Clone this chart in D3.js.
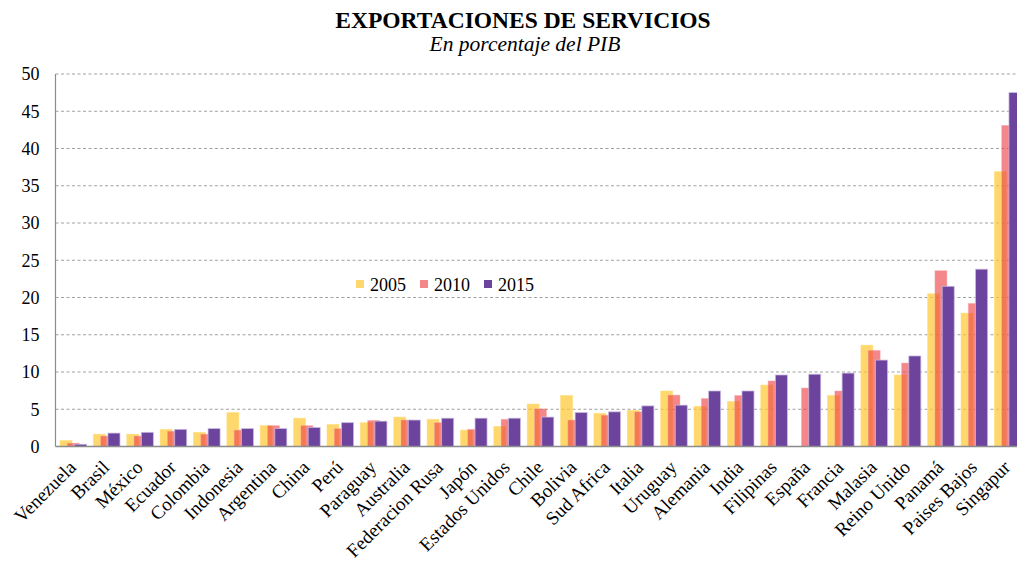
<!DOCTYPE html>
<html>
<head>
<meta charset="utf-8">
<script src="https://cdn.jsdelivr.net/npm/d3@7"></script>
<style>
  body { margin: 0; background: #fff; }
  svg { display: block; font-family: "Liberation Serif", "Times New Roman", serif; }
</style>
</head>
<body>
<div id="chart"></div>
<script>
// countries, ordered as in the source chart
var countries = ["Venezuela", "Brasil", "México", "Ecuador", "Colombia", "Indonesia", "Argentina",
  "China", "Perú", "Paraguay", "Australia", "Federacion Rusa", "Japón", "Estados Unidos", "Chile",
  "Bolivia", "Sud Africa", "Italia", "Uruguay", "Alemania", "India", "Filipinas", "España",
  "Francia", "Malasia", "Reino Unido", "Panamá", "Paises Bajos", "Singapur"];
var years = ["2005", "2010", "2015"];
var v2005 = [0.8, 1.65, 1.65, 2.3, 1.9, 4.55, 2.8, 3.8, 2.95, 3.2, 3.95, 3.65, 2.2, 2.7, 5.7,
  6.85, 4.45, 4.85, 7.45, 5.4, 6.05, 8.25, null, 6.85, 13.6, 9.6, 20.5, 17.9, 36.9];
var v2010 = [0.45, 1.4, 1.4, 2.05, 1.65, 2.2, 2.8, 2.8, 2.4, 3.5, 3.55, 3.2, 2.3, 3.65, 5.05,
  3.55, 4.2, 4.65, 6.9, 6.45, 6.85, 8.8, 7.85, 7.45, 12.9, 11.2, 23.6, 19.2, 43.1];
var v2015 = [0.3, 1.8, 1.9, 2.3, 2.4, 2.4, 2.4, 2.55, 3.2, 3.4, 3.55, 3.8, 3.8, 3.8, 3.95,
  4.55, 4.65, 5.45, 5.55, 7.45, 7.45, 9.6, 9.7, 9.85, 11.6, 12.15, 21.5, 23.8, 47.5];
var yTicks = [0, 5, 10, 15, 20, 25, 30, 35, 40, 45, 50];

var width = 1017, height = 565;
var plotLeft = 55.5, plotBottom = 446.5, plotTop = 74;
var step = 33.37;

var svg = d3.select("#chart").append("svg")
  .attr("width", width)
  .attr("height", height);

var x = d3.scaleBand()
  .domain(countries)
  .range([plotLeft, plotLeft + step * countries.length])
  .padding(0);
var y = d3.scaleLinear().domain([0, 50]).range([plotBottom, plotTop]);

// gridlines
svg.append("g")
  .selectAll("line")
  .data(yTicks.filter(function(d) { return d > 0; }))
  .enter().append("line")
  .attr("x1", plotLeft).attr("x2", width)
  .attr("y1", function(d) { return y(d); })
  .attr("y2", function(d) { return y(d); })
  .style("stroke", "#a0a0a0")
  .style("stroke-dasharray", "3,2.5")
  .style("stroke-width", 1);

// y axis labels
svg.append("g")
  .attr("transform", "translate(" + (plotLeft - 16) + ",0)")
  .call(d3.axisLeft(y).tickValues(yTicks).tickSize(0).tickPadding(0))
  .call(function(g) { g.select(".domain").remove(); })
  .selectAll("text")
  .style("font-family", "Liberation Serif, serif")
  .style("font-size", "18px")
  .style("fill", "#000");

// bars
var bw = 12, shift = 7.3, off = 4.5;
var series = [
  { name: "2005", values: v2005, fill: "rgb(255,201,53)", opacity: 0.72, stroke: "rgba(255,220,120,0.6)" },
  { name: "2010", values: v2010, fill: "rgb(237,61,66)", opacity: 0.62, stroke: "rgba(250,170,170,0.5)" },
  { name: "2015", values: v2015, fill: "#6c449e", opacity: 1, stroke: "rgba(200,185,225,0.9)" }
];
series.forEach(function(s, i) {
  svg.append("g")
    .selectAll("rect")
    .data(s.values.map(function(v, k) { return { c: countries[k], v: v }; })
      .filter(function(d) { return d.v != null; }))
    .enter().append("rect")
    .attr("x", function(d) { return x(d.c) + off + i * shift; })
    .attr("y", function(d) { return y(d.v); })
    .attr("width", bw)
    .attr("height", function(d) { return plotBottom - y(d.v); })
    .style("fill", s.fill)
    .style("fill-opacity", s.opacity)
    .style("stroke", s.stroke)
    .style("stroke-width", 0.8);
});

// axes lines
svg.append("line")
  .attr("x1", plotLeft).attr("x2", width)
  .attr("y1", plotBottom).attr("y2", plotBottom)
  .style("stroke", "#8c8c8c").style("stroke-width", 1.5);
svg.append("line")
  .attr("x1", plotLeft).attr("x2", plotLeft)
  .attr("y1", plotTop).attr("y2", plotBottom)
  .style("stroke", "#8c8c8c").style("stroke-width", 1.2);

// category labels
svg.append("g")
  .selectAll("text")
  .data(countries)
  .enter().append("text")
  .attr("transform", function(d) {
    return "translate(" + (x(d) + x.bandwidth() / 2 + 5) + "," + (plotBottom + 22) + ") rotate(-45)";
  })
  .style("text-anchor", "end")
  .style("font-size", "19px")
  .text(function(d) { return d; });

// legend
var legend = svg.append("g")
  .selectAll("g")
  .data(series)
  .enter().append("g")
  .attr("transform", function(d, i) { return "translate(" + (356 + i * 64) + ",280)"; });
legend.append("rect")
  .attr("width", 8).attr("height", 8)
  .style("fill", function(d) { return d.fill; })
  .style("fill-opacity", function(d) { return d.opacity; });
legend.append("text")
  .attr("x", 14).attr("y", 11)
  .style("font-size", "18px")
  .text(function(d) { return d.name; });

// titles
svg.append("text")
  .attr("x", 523).attr("y", 28)
  .style("text-anchor", "middle")
  .style("font-weight", "bold")
  .style("font-size", "23.5px")
  .text("EXPORTACIONES DE SERVICIOS");
svg.append("text")
  .attr("x", 525).attr("y", 51)
  .style("text-anchor", "middle")
  .style("font-style", "italic")
  .style("font-size", "21.5px")
  .text("En porcentaje del PIB");
</script>
</body>
</html>
